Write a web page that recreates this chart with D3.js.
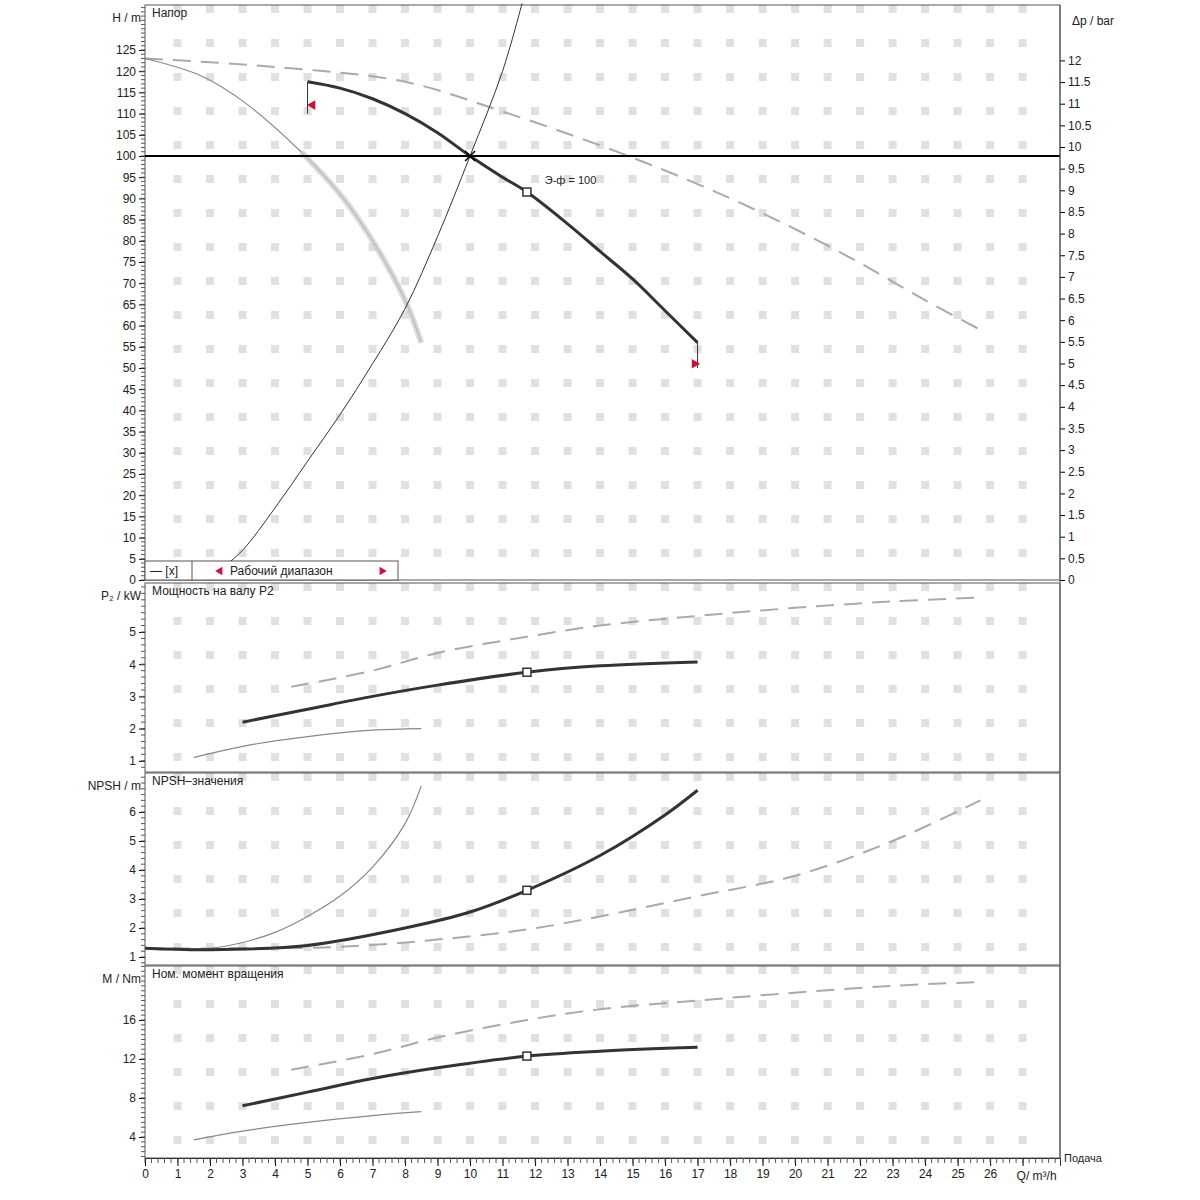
<!DOCTYPE html>
<html><head><meta charset="utf-8">
<script src="https://cdn.jsdelivr.net/npm/d3@7"></script>
<style>body{margin:0;background:#fff}text{font-family:"Liberation Sans",Arial,sans-serif;fill:#222}</style>
</head><body><svg id="c" width="1200" height="1200"></svg>
<script>
// ---- data ----
const hWork = [[5,117.5],[6,116],[7,113.5],[8,110],[9,105.5],[10,100],[11,95],[11.75,91.5],[13,84],[14,77.5],[15,71],[16,63.5],[17,56]];
const hMax = [[0,123],[4,121],[8,117.5],[11,110.5],[14,102.5],[16.5,95],[19,86.5],[21.7,76],[24,66],[25.7,59]];
const hMin = [[0,123],[1.7,119],[3,113],[4.8,101],[6,91],[7,80],[8,66],[8.5,56]];
const hSys = [[2.4,3],[3,7],[4,17],[5,28],[6,39],[7,51],[8,64],[9,81],[10,100],[11,120],[11.6,136]];
const pWork = [[3,2.2],[5,2.6],[7,3.0],[9,3.35],[11.75,3.75],[14,3.95],[17,4.07]];
const pMax = [[4.5,3.3],[7,3.8],[9,4.35],[11.75,4.85],[14,5.2],[17,5.5],[20,5.75],[23,5.95],[25.7,6.07]];
const pMin = [[1.5,1.1],[3,1.45],[5,1.75],[7,1.95],[8.5,2.0]];
const nWork = [[0,1.3],[2,1.25],[5,1.4],[8,2.0],[10,2.55],[11.75,3.3],[14,4.5],[16,5.9],[17,6.75]];
const nMax = [[0,1.3],[3,1.3],[6,1.35],[9,1.6],[11.75,1.95],[14,2.4],[17,3.1],[20,3.8],[23,5.0],[25.7,6.4]];
const nMin = [[0,1.3],[2,1.3],[3,1.5],[4,1.85],[5,2.4],[6,3.1],[7,4.1],[8,5.6],[8.5,6.9]];
const mWork = [[3,7.2],[5,8.6],[7,10],[9,11.1],[11.75,12.3],[14,12.8],[17,13.2]];
const mMax = [[4.5,10.9],[7,12.5],[9,14.2],[11.75,16],[14,17.1],[17,18],[20,18.8],[23,19.5],[25.7,19.9]];
const mMin = [[1.5,3.7],[3,4.6],[5,5.5],[7,6.2],[8.5,6.6]];
const dutyQ = 11.75;
const qTicks = d3.range(0,28);
const qLabels = d3.range(0,27);
const hTicks = d3.range(0,130,5);
const barTicks = d3.range(0,12.5,0.5);
const pTicks = [1,2,3,4,5];
const nTicks = [1,2,3,4,5,6];
const mTicks = [4,8,12,16];

const svg = d3.select("#c");
const L=145, R=1060;
const x = d3.scaleLinear().domain([0,28.15]).range([L,R]);
const panels = [
 {top:5,bot:580,y:d3.scaleLinear().domain([0,100]).range([580,156]),ticks:hTicks,label:"Напор",ylab:"H / m",work:hWork,max:hMax,min:hMin},
 {top:583,bot:772,y:d3.scaleLinear().domain([0,5]).range([793,632]),ticks:pTicks,label:"Мощность на валу P2",ylab:"P₂ / kW",work:pWork,max:pMax,min:pMin},
 {top:773,bot:965,y:d3.scaleLinear().domain([0,6]).range([986,812]),ticks:nTicks,label:"NPSH–значения",ylab:"NPSH / m",work:nWork,max:nMax,min:nMin},
 {top:966,bot:1158,y:d3.scaleLinear().domain([0,16]).range([1176,1020]),ticks:mTicks,label:"Ном. момент вращения",ylab:"M / Nm",work:mWork,max:mMax,min:mMin}
];
const line = y => d3.line().x(d=>x(d[0])).y(d=>y(d[1])).curve(d3.curveCatmullRom.alpha(0.5));

panels.forEach((p,i)=>{
  const g = svg.append("g");
  g.selectAll(".gv").data(qTicks.filter(q=>q>0)).join("line")
    .attr("x1",q=>x(q)).attr("x2",q=>x(q)).attr("y1",p.top).attr("y2",p.bot)
    .attr("stroke","#e0e0e0").attr("stroke-width",8).attr("stroke-dasharray","8,26");
  g.append("rect").attr("x",L).attr("y",p.top).attr("width",R-L).attr("height",p.bot-p.top)
   .attr("fill","none").attr("stroke","#555").attr("stroke-width",1);
  const ax = d3.axisLeft(p.y).tickValues(p.ticks).tickSize(6).tickFormat(d=>d);
  const ga = g.append("g").attr("transform",`translate(${L},0)`).call(ax);
  ga.select(".domain").remove();
  ga.selectAll("text").attr("font-size",12).attr("fill","#444");
  const dom = p.y.domain(), step=(dom[1]-dom[0])/ (i==0?100:(i==3?16*2:dom[1]*5));
  const y0=p.y.invert(p.bot), y1=p.y.invert(p.top);
  const minor = d3.range(Math.ceil(y0/step)*step, y1, step);
  g.selectAll(".mn").data(minor).join("line").attr("x1",L-4).attr("x2",L).attr("y1",d=>p.y(d)).attr("y2",d=>p.y(d)).attr("stroke","#555");
  g.append("text").attr("x",L-4).attr("y",p.top+17).attr("text-anchor","end").attr("font-size",12).attr("fill","#444").text(p.ylab);
  g.append("text").attr("x",L+7).attr("y",p.top+12).attr("font-size",12).text(p.label);
  g.append("path").attr("d",line(p.y)(p.max)).attr("fill","none").attr("stroke","#aaa").attr("stroke-width",2).attr("stroke-dasharray","18,10");
  g.append("path").attr("d",line(p.y)(p.min)).attr("fill","none").attr("stroke","#888").attr("stroke-width",1.2);
  g.append("path").attr("d",line(p.y)(p.work)).attr("fill","none").attr("stroke","#333").attr("stroke-width",3);
  const dv = p.work.find(d=>d[0]===dutyQ);
  g.append("rect").attr("x",x(dutyQ)-4).attr("y",p.y(dv[1])-4).attr("width",8).attr("height",8).attr("fill","#fff").attr("stroke","#333").attr("stroke-width",1.5);
});

const P=panels[0];
svg.append("path").attr("d",line(P.y)(hMin.slice(3))).attr("fill","none").attr("stroke","#ccc").attr("stroke-width",6).attr("opacity",0.7);
svg.append("path").attr("d",line(P.y)(hSys)).attr("fill","none").attr("stroke","#333").attr("stroke-width",1);
svg.append("line").attr("x1",L).attr("x2",R).attr("y1",P.y(100)).attr("y2",P.y(100)).attr("stroke","#000").attr("stroke-width",2);
svg.append("line").attr("x1",x(5)).attr("x2",x(5)).attr("y1",P.y(117.5)).attr("y2",P.y(110)).attr("stroke","#333");
svg.append("line").attr("x1",x(17)).attr("x2",x(17)).attr("y1",P.y(56)).attr("y2",P.y(50)).attr("stroke","#333");
svg.append("path").attr("d",d3.symbol(d3.symbolTriangle,40)()).attr("transform",`translate(${x(5)+5},${P.y(112)}) rotate(-90)`).attr("fill","#d0103a");
svg.append("path").attr("d",d3.symbol(d3.symbolTriangle,40)()).attr("transform",`translate(${x(17)-3},${P.y(51)}) rotate(90)`).attr("fill","#d0103a");
svg.append("path").attr("d",`M${x(10)-5},${P.y(100)-5}L${x(10)+5},${P.y(100)+5}M${x(10)+5},${P.y(100)-5}L${x(10)-5},${P.y(100)+5}`).attr("stroke","#000").attr("stroke-width",1.5);
svg.append("text").attr("x",x(12.3)).attr("y",P.y(93.5)).attr("font-size",11).attr("fill","#777").text("Э-ф   = 100");
const yb = d3.scaleLinear().domain([0,10]).range([580,147]);
const gb = svg.append("g").attr("transform",`translate(${R},0)`).call(d3.axisRight(yb).tickValues(barTicks).tickSize(5).tickFormat(d=>d));
gb.select(".domain").remove(); gb.selectAll("text").attr("font-size",12).attr("fill","#444");
svg.append("line").attr("x1",R).attr("x2",R).attr("y1",5).attr("y2",1158).attr("stroke","#555");
svg.append("text").attr("x",R+12).attr("y",25).attr("font-size",12).attr("fill","#444").text("Δp / bar");
svg.append("rect").attr("x",L).attr("y",561).attr("width",253).attr("height",19).attr("fill","#fff").attr("stroke","#555");
svg.append("line").attr("x1",192).attr("x2",192).attr("y1",561).attr("y2",580).attr("stroke","#555");
svg.append("text").attr("x",150).attr("y",575).attr("font-size",12).attr("fill","#888").text("— [x]");
svg.append("path").attr("d",d3.symbol(d3.symbolTriangle,30)()).attr("transform","translate(220,571) rotate(-90)").attr("fill","#d0103a");
svg.append("text").attr("x",230).attr("y",575).attr("font-size",12).text("Рабочий диапазон");
svg.append("path").attr("d",d3.symbol(d3.symbolTriangle,30)()).attr("transform","translate(382,571) rotate(90)").attr("fill","#d0103a");
const gx = svg.append("g").attr("transform","translate(0,1158)").call(d3.axisBottom(x).tickValues(qTicks).tickSize(8).tickFormat(d=>qLabels.includes(d)?d:""));
gx.select(".domain").attr("stroke","#333"); gx.selectAll("text").attr("font-size",12).attr("fill","#444");
svg.append("g").selectAll("line").data(d3.range(0,28.1,0.2)).join("line").attr("x1",d=>x(d)).attr("x2",d=>x(d)).attr("y1",1158).attr("y2",1163).attr("stroke","#555");
svg.append("text").attr("x",x(27)-6).attr("y",1180).attr("font-size",12).attr("fill","#444").text("Q/ m³/h");
svg.append("text").attr("x",1064).attr("y",1162).attr("font-size",11).attr("fill","#444").text("Подача");
</script></body></html>
